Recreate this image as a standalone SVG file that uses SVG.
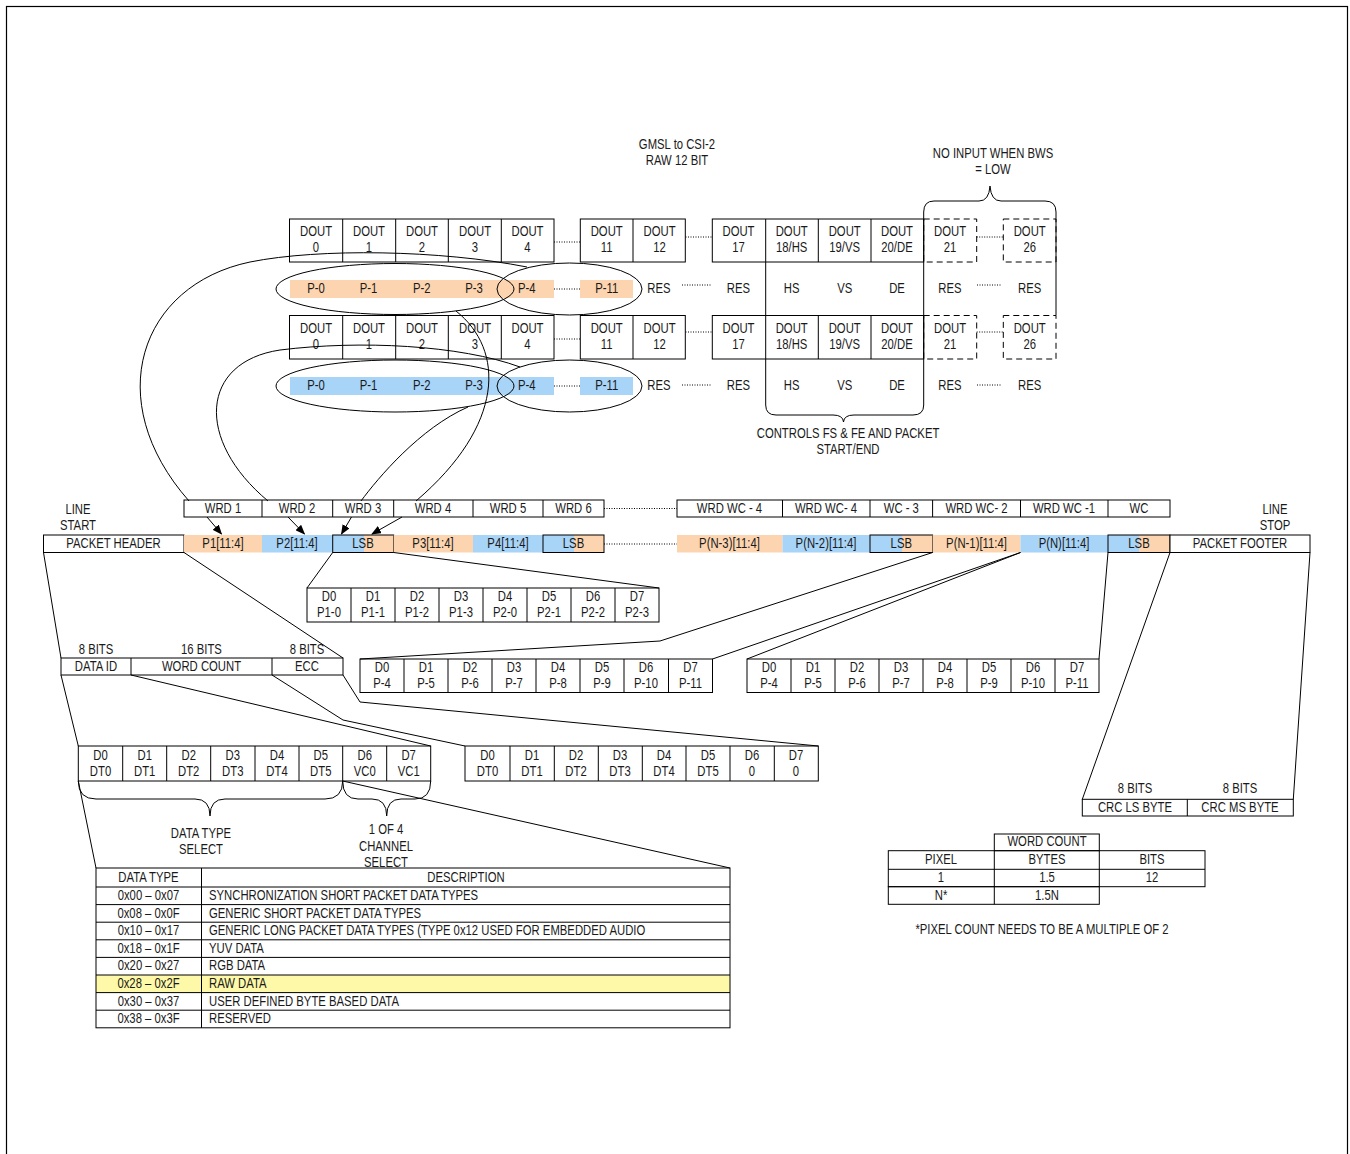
<svg xmlns="http://www.w3.org/2000/svg" width="1350" height="1154" viewBox="0 0 1350 1154">
<style>
text{font-family:"Liberation Sans",Arial,sans-serif;font-size:13.8px;fill:#1a1a1a;text-anchor:middle;transform-box:fill-box;transform-origin:center;transform:scaleX(.82)}
text.lt{text-anchor:start;transform-origin:left center}
.s{stroke:#000;stroke-width:1;fill:none}
.b{stroke:#000;stroke-width:1;fill:#fff}
.dot{stroke:#000;stroke-width:1;stroke-dasharray:1,1.5;fill:none}
.dash{stroke:#000;stroke-width:1;stroke-dasharray:6,4;fill:none}
.o{fill:#fcd5b0}
.bl{fill:#a8d4f8}
</style>
<defs>
<marker id="ah" markerWidth="10" markerHeight="8" refX="9" refY="4" orient="auto" markerUnits="userSpaceOnUse">
<path d="M0,0 L10,4 L0,8 z" fill="#000"/>
</marker>
</defs>
<rect x="6.5" y="6.5" width="1341" height="1170" fill="none" stroke="#000" stroke-width="1.2"/>

<g id="title">
<text x="677" y="149">GMSL to CSI-2</text>
<text x="677" y="165">RAW 12 BIT</text>
</g>
<g id="note-bws">
<text x="993" y="158">NO INPUT WHEN BWS</text>
<text x="993" y="174">= LOW</text>
</g>

<g id="dout-row1">
<rect class="s" x="289.5" y="219" width="264.5" height="43"/>
<path class="s" d="M342.7 219V262M395.7 219V262M448.3 219V262M501.3 219V262"/>
<rect class="s" x="580.3" y="219" width="105" height="43"/>
<path class="s" d="M633 219V262"/>
<rect class="s" x="712.3" y="219" width="211.4" height="43"/>
<path class="s" d="M765.7 219V262M818.3 219V262M871 219V262"/>
<rect class="dash" x="923.7" y="219" width="53" height="43"/>
<rect class="dash" x="1003.3" y="219" width="52.7" height="43"/>
<path class="dot" d="M554 242H580M685.5 237H712M976.7 237H1003"/>
<text x="316" y="236">DOUT</text><text x="316" y="252">0</text>
<text x="369" y="236">DOUT</text><text x="369" y="252">1</text>
<text x="422" y="236">DOUT</text><text x="422" y="252">2</text>
<text x="475" y="236">DOUT</text><text x="475" y="252">3</text>
<text x="527.5" y="236">DOUT</text><text x="527.5" y="252">4</text>
<text x="606.7" y="236">DOUT</text><text x="606.7" y="252">11</text>
<text x="659.5" y="236">DOUT</text><text x="659.5" y="252">12</text>
<text x="738.5" y="236">DOUT</text><text x="738.5" y="252">17</text>
<text x="791.7" y="236">DOUT</text><text x="791.7" y="252">18/HS</text>
<text x="844.7" y="236">DOUT</text><text x="844.7" y="252">19/VS</text>
<text x="897" y="236">DOUT</text><text x="897" y="252">20/DE</text>
<text x="950" y="236">DOUT</text><text x="950" y="252">21</text>
<text x="1029.7" y="236">DOUT</text><text x="1029.7" y="252">26</text>
</g>

<g id="p-row1">
<rect class="o" x="290" y="280" width="264" height="18"/>
<rect class="o" x="580" y="280" width="53" height="18"/>
<path class="dot" d="M554 289H580M682 285H712M977 285H1002"/>
<text x="316" y="293">P-0</text>
<text x="368.5" y="293">P-1</text>
<text x="421.7" y="293">P-2</text>
<text x="474" y="293">P-3</text>
<text x="526.7" y="293">P-4</text>
<text x="606.7" y="293">P-11</text>
<text x="659" y="293">RES</text>
<text x="738.5" y="293">RES</text>
<text x="791.7" y="293">HS</text>
<text x="844.7" y="293">VS</text>
<text x="897" y="293">DE</text>
<text x="950" y="293">RES</text>
<text x="1029.7" y="293">RES</text>
<ellipse class="s" cx="395" cy="289" rx="119" ry="25.5"/>
<ellipse class="s" cx="569.5" cy="289" rx="72.5" ry="26"/>
</g>

<g id="dout-row2">
<rect class="s" x="289.5" y="315.5" width="264.5" height="43.5"/>
<path class="s" d="M342.7 315.5V359M395.7 315.5V359M448.3 315.5V359M501.3 315.5V359"/>
<rect class="s" x="580.3" y="315.5" width="105" height="43.5"/>
<path class="s" d="M633 315.5V359"/>
<rect class="s" x="712.3" y="315.5" width="211.4" height="43.5"/>
<path class="s" d="M765.7 315.5V359M818.3 315.5V359M871 315.5V359"/>
<rect class="dash" x="923.7" y="315.5" width="53" height="43.5"/>
<rect class="dash" x="1003.3" y="315.5" width="52.7" height="43.5"/>
<path class="dot" d="M554 339H580M685.5 332H712M976.7 332H1003"/>
<text x="316" y="333">DOUT</text><text x="316" y="349">0</text>
<text x="369" y="333">DOUT</text><text x="369" y="349">1</text>
<text x="422" y="333">DOUT</text><text x="422" y="349">2</text>
<text x="475" y="333">DOUT</text><text x="475" y="349">3</text>
<text x="527.5" y="333">DOUT</text><text x="527.5" y="349">4</text>
<text x="606.7" y="333">DOUT</text><text x="606.7" y="349">11</text>
<text x="659.5" y="333">DOUT</text><text x="659.5" y="349">12</text>
<text x="738.5" y="333">DOUT</text><text x="738.5" y="349">17</text>
<text x="791.7" y="333">DOUT</text><text x="791.7" y="349">18/HS</text>
<text x="844.7" y="333">DOUT</text><text x="844.7" y="349">19/VS</text>
<text x="897" y="333">DOUT</text><text x="897" y="349">20/DE</text>
<text x="950" y="333">DOUT</text><text x="950" y="349">21</text>
<text x="1029.7" y="333">DOUT</text><text x="1029.7" y="349">26</text>
</g>

<g id="p-row2">
<rect class="bl" x="290" y="377" width="264" height="18"/>
<rect class="bl" x="580" y="377" width="53" height="18"/>
<path class="dot" d="M554 386H580M682 385H712M977 385H1002"/>
<text x="316" y="390">P-0</text>
<text x="368.5" y="390">P-1</text>
<text x="421.7" y="390">P-2</text>
<text x="474" y="390">P-3</text>
<text x="526.7" y="390">P-4</text>
<text x="606.7" y="390">P-11</text>
<text x="659" y="390">RES</text>
<text x="738.5" y="390">RES</text>
<text x="791.7" y="390">HS</text>
<text x="844.7" y="390">VS</text>
<text x="897" y="390">DE</text>
<text x="950" y="390">RES</text>
<text x="1029.7" y="390">RES</text>
<ellipse class="s" cx="395" cy="386" rx="119" ry="26"/>
<ellipse class="s" cx="569.5" cy="386" rx="72.5" ry="26"/>
</g>

<g id="braces-top">
<path class="s" d="M923.7 405V212Q923.7 201 934 201H979Q989 201 990 186Q991 201 1001 201H1045Q1056 201 1056 212V315.5"/>
<path class="s" d="M765.7 262V315.5M765.7 359V405Q765.7 415 776 415H833Q843 415 843.5 422Q844 415 854 415H913Q923.7 415 923.7 405"/>
<text x="848" y="438.5">CONTROLS FS &amp; FE AND PACKET</text>
<text x="848" y="454.5">START/END</text>
</g>

<g id="wrd-row">
<rect class="s" x="184" y="500" width="420" height="17"/>
<path class="s" d="M262 500V517M332.7 500V517M393.7 500V517M473 500V517M543 500V517"/>
<path class="dot" d="M604 508.5H677"/>
<rect class="s" x="677" y="500" width="493" height="17"/>
<path class="s" d="M782.5 500V517M870 500V517M932.6 500V517M1020.5 500V517M1108 500V517"/>
<text x="223" y="513">WRD 1</text>
<text x="297" y="513">WRD 2</text>
<text x="363" y="513">WRD 3</text>
<text x="433" y="513">WRD 4</text>
<text x="508" y="513">WRD 5</text>
<text x="573.5" y="513">WRD 6</text>
<text x="729.5" y="513">WRD WC - 4</text>
<text x="826" y="513">WRD WC- 4</text>
<text x="901.3" y="513">WC - 3</text>
<text x="976.5" y="513">WRD WC- 2</text>
<text x="1064" y="513">WRD WC -1</text>
<text x="1139" y="513">WC</text>
</g>

<g id="line-start"><text x="78" y="514.5">LINE</text><text x="78" y="530.5">START</text></g>
<g id="line-stop"><text x="1275" y="514.5">LINE</text><text x="1275" y="530.5">STOP</text></g>

<g id="p-row">
<rect class="b" x="43.5" y="535" width="140.5" height="17.5"/>
<rect class="o" x="184" y="535" width="78" height="17.5"/>
<rect class="bl" x="262" y="535" width="70.7" height="17.5"/>
<rect class="bl" x="332.7" y="535" width="31.3" height="17.5"/>
<rect class="o" x="364" y="535" width="29.7" height="17.5"/>
<rect class="s" x="332.7" y="535" width="61" height="17.5"/>
<rect class="o" x="393.7" y="535" width="79.3" height="17.5"/>
<rect class="bl" x="473" y="535" width="70" height="17.5"/>
<rect class="bl" x="543" y="535" width="31" height="17.5"/>
<rect class="o" x="574" y="535" width="30" height="17.5"/>
<rect class="s" x="543" y="535" width="61" height="17.5"/>
<path class="dot" d="M604 544H677"/>
<rect class="o" x="677" y="535" width="105.5" height="17.5"/>
<rect class="bl" x="782.5" y="535" width="87.5" height="17.5"/>
<rect class="bl" x="870" y="535" width="32" height="17.5"/>
<rect class="o" x="902" y="535" width="30.6" height="17.5"/>
<rect class="s" x="870" y="535" width="62.6" height="17.5"/>
<rect class="o" x="932.6" y="535" width="87.9" height="17.5"/>
<rect class="bl" x="1020.5" y="535" width="87.5" height="17.5"/>
<rect class="bl" x="1108" y="535" width="31" height="17.5"/>
<rect class="o" x="1139" y="535" width="31" height="17.5"/>
<rect class="s" x="1108" y="535" width="62" height="17.5"/>
<rect class="b" x="1170" y="535" width="140" height="17.5"/>
<text x="113.5" y="548">PACKET HEADER</text>
<text x="223" y="548">P1[11:4]</text>
<text x="297" y="548">P2[11:4]</text>
<text x="363" y="548">LSB</text>
<text x="433" y="548">P3[11:4]</text>
<text x="508" y="548">P4[11:4]</text>
<text x="573.5" y="548">LSB</text>
<text x="729.5" y="548">P(N-3)[11:4]</text>
<text x="826" y="548">P(N-2)[11:4]</text>
<text x="901.3" y="548">LSB</text>
<text x="976.5" y="548">P(N-1)[11:4]</text>
<text x="1064" y="548">P(N)[11:4]</text>
<text x="1139" y="548">LSB</text>
<text x="1240" y="548">PACKET FOOTER</text>
</g>

<g id="lsb-box1">
<rect class="s" x="307" y="588" width="352" height="34"/>
<path class="s" d="M351 588V622M395 588V622M439 588V622M483 588V622M527 588V622M571 588V622M615 588V622"/>
<text x="329" y="601.5">D0</text><text x="329" y="617.5">P1-0</text>
<text x="373" y="601.5">D1</text><text x="373" y="617.5">P1-1</text>
<text x="417" y="601.5">D2</text><text x="417" y="617.5">P1-2</text>
<text x="461" y="601.5">D3</text><text x="461" y="617.5">P1-3</text>
<text x="505" y="601.5">D4</text><text x="505" y="617.5">P2-0</text>
<text x="549" y="601.5">D5</text><text x="549" y="617.5">P2-1</text>
<text x="593" y="601.5">D6</text><text x="593" y="617.5">P2-2</text>
<text x="637" y="601.5">D7</text><text x="637" y="617.5">P2-3</text>
</g>

<g id="header-fields">
<rect class="s" x="61" y="658" width="282" height="17"/>
<path class="s" d="M131 658V675M272 658V675"/>
<text x="96" y="654">8 BITS</text>
<text x="201.5" y="654">16 BITS</text>
<text x="307" y="654">8 BITS</text>
<text x="96" y="671">DATA ID</text>
<text x="201.5" y="671">WORD COUNT</text>
<text x="307" y="671">ECC</text>
</g>

<g id="lsb-box2">
<rect class="s" x="360" y="659" width="352.5" height="33.5"/>
<path class="s" d="M404 659V692.5M448 659V692.5M492 659V692.5M536 659V692.5M580 659V692.5M624 659V692.5M668.5 659V692.5"/>
<text x="382" y="672">D0</text><text x="382" y="688.5">P-4</text>
<text x="426" y="672">D1</text><text x="426" y="688.5">P-5</text>
<text x="470" y="672">D2</text><text x="470" y="688.5">P-6</text>
<text x="514" y="672">D3</text><text x="514" y="688.5">P-7</text>
<text x="558" y="672">D4</text><text x="558" y="688.5">P-8</text>
<text x="602" y="672">D5</text><text x="602" y="688.5">P-9</text>
<text x="646" y="672">D6</text><text x="646" y="688.5">P-10</text>
<text x="690.5" y="672">D7</text><text x="690.5" y="688.5">P-11</text>
</g>

<g id="lsb-box3">
<rect class="s" x="747" y="659" width="352" height="33.5"/>
<path class="s" d="M791 659V692.5M835 659V692.5M879 659V692.5M923 659V692.5M967 659V692.5M1011 659V692.5M1055 659V692.5"/>
<text x="769" y="672">D0</text><text x="769" y="688.5">P-4</text>
<text x="813" y="672">D1</text><text x="813" y="688.5">P-5</text>
<text x="857" y="672">D2</text><text x="857" y="688.5">P-6</text>
<text x="901" y="672">D3</text><text x="901" y="688.5">P-7</text>
<text x="945" y="672">D4</text><text x="945" y="688.5">P-8</text>
<text x="989" y="672">D5</text><text x="989" y="688.5">P-9</text>
<text x="1033" y="672">D6</text><text x="1033" y="688.5">P-10</text>
<text x="1077" y="672">D7</text><text x="1077" y="688.5">P-11</text>
</g>

<g id="data-id-bits">
<rect class="s" x="78.3" y="746" width="352.4" height="35"/>
<path class="s" d="M122.7 746V781M166.7 746V781M210.7 746V781M255 746V781M299 746V781M342.7 746V781M386.7 746V781"/>
<text x="100.5" y="760.5">D0</text><text x="100.5" y="776.5">DT0</text>
<text x="144.7" y="760.5">D1</text><text x="144.7" y="776.5">DT1</text>
<text x="188.7" y="760.5">D2</text><text x="188.7" y="776.5">DT2</text>
<text x="232.8" y="760.5">D3</text><text x="232.8" y="776.5">DT3</text>
<text x="277" y="760.5">D4</text><text x="277" y="776.5">DT4</text>
<text x="320.8" y="760.5">D5</text><text x="320.8" y="776.5">DT5</text>
<text x="364.7" y="760.5">D6</text><text x="364.7" y="776.5">VC0</text>
<text x="408.7" y="760.5">D7</text><text x="408.7" y="776.5">VC1</text>
</g>

<g id="ecc-bits">
<rect class="s" x="465" y="746" width="353.3" height="35"/>
<path class="s" d="M510 746V781M554.3 746V781M598.3 746V781M642.3 746V781M686 746V781M730 746V781M774.3 746V781"/>
<text x="487.5" y="760.5">D0</text><text x="487.5" y="776.5">DT0</text>
<text x="532" y="760.5">D1</text><text x="532" y="776.5">DT1</text>
<text x="576" y="760.5">D2</text><text x="576" y="776.5">DT2</text>
<text x="620" y="760.5">D3</text><text x="620" y="776.5">DT3</text>
<text x="664" y="760.5">D4</text><text x="664" y="776.5">DT4</text>
<text x="708" y="760.5">D5</text><text x="708" y="776.5">DT5</text>
<text x="752" y="760.5">D6</text><text x="752" y="776.5">0</text>
<text x="796" y="760.5">D7</text><text x="796" y="776.5">0</text>
</g>

<g id="braces-bottom">
<path class="s" d="M78.3 781Q78.3 799 96 799H195Q210 799 210 816Q210 799 225 799H325Q342.7 799 342.7 781"/>
<path class="s" d="M342.7 781Q342.7 799 358 799H372Q386.7 799 386.7 816Q386.7 799 401 799H415Q430.7 799 430.7 781"/>
<text x="201" y="838.5">DATA TYPE</text>
<text x="201" y="854.5">SELECT</text>
<text x="386" y="834.5">1 OF 4</text>
<text x="386" y="851.5">CHANNEL</text>
<text x="386" y="867.5">SELECT</text>
</g>

<g id="data-type-table">
<rect x="96" y="975" width="634" height="17.6" fill="#fef9a8"/>
<rect class="s" x="96" y="868" width="634" height="159.8"/>
<path class="s" d="M201.5 868V1027.8M96 887H730M96 904.6H730M96 922.2H730M96 939.8H730M96 957.4H730M96 975H730M96 992.6H730M96 1010.2H730"/>
<text x="148.5" y="882">DATA TYPE</text><text x="466" y="882">DESCRIPTION</text>
<text x="148.5" y="900">0x00 – 0x07</text><text class="lt" x="209" y="900">SYNCHRONIZATION SHORT PACKET DATA TYPES</text>
<text x="148.5" y="917.6">0x08 – 0x0F</text><text class="lt" x="209" y="917.6">GENERIC SHORT PACKET DATA TYPES</text>
<text x="148.5" y="935.2">0x10 – 0x17</text><text class="lt" x="209" y="935.2">GENERIC LONG PACKET DATA TYPES (TYPE 0x12 USED FOR EMBEDDED AUDIO</text>
<text x="148.5" y="952.8">0x18 – 0x1F</text><text class="lt" x="209" y="952.8">YUV DATA</text>
<text x="148.5" y="970.4">0x20 – 0x27</text><text class="lt" x="209" y="970.4">RGB DATA</text>
<text x="148.5" y="988">0x28 – 0x2F</text><text class="lt" x="209" y="988">RAW DATA</text>
<text x="148.5" y="1005.6">0x30 – 0x37</text><text class="lt" x="209" y="1005.6">USER DEFINED BYTE BASED DATA</text>
<text x="148.5" y="1023.2">0x38 – 0x3F</text><text class="lt" x="209" y="1023.2">RESERVED</text>
</g>

<g id="crc">
<rect class="s" x="1082.3" y="799.3" width="211" height="16.7"/>
<path class="s" d="M1187.3 799.3V816"/>
<text x="1135" y="793">8 BITS</text>
<text x="1240" y="793">8 BITS</text>
<text x="1135" y="812">CRC LS BYTE</text>
<text x="1240" y="812">CRC MS BYTE</text>
</g>

<g id="word-count-table">
<rect class="s" x="994.3" y="834" width="105" height="16.7"/>
<rect class="s" x="888.3" y="850.7" width="316.7" height="36"/>
<path class="s" d="M888.3 869.3H1205M994.3 850.7V904.3M1099.3 850.7V886.7"/>
<rect class="s" x="888.3" y="886.7" width="211" height="17.6"/>
<text x="1047" y="846.5">WORD COUNT</text>
<text x="941" y="864.5">PIXEL</text><text x="1047" y="864.5">BYTES</text><text x="1152" y="864.5">BITS</text>
<text x="941" y="882.5">1</text><text x="1047" y="882.5">1.5</text><text x="1152" y="882.5">12</text>
<text x="941" y="900">N*</text><text x="1047" y="900">1.5N</text>
<text x="1042" y="934.5">*PIXEL COUNT NEEDS TO BE A MULTIPLE OF 2</text>
</g>

<g id="connectors">
<path class="s" d="M527 267C440 250 320 248 250 262C140 285 100 400 189 501"/>
<path class="s" d="M520 367C460 345 360 340 280 350C200 362 195 440 268 501"/>
<path class="s" d="M361 501C378 478 420 428 468 407"/>
<path class="s" d="M456 311C505 350 505 425 416 501"/>
<path class="s" marker-end="url(#ah)" d="M207 517L221.5 534"/>
<path class="s" marker-end="url(#ah)" d="M288 517L304.5 534"/>
<path class="s" marker-end="url(#ah)" d="M351.5 517L341.5 534"/>
<path class="s" marker-end="url(#ah)" d="M402 517L372 534"/>
<path class="s" d="M43.5 552.5L61 658M61 675L78.3 746M78.3 781L96 868"/>
<path class="s" d="M184 552.5L343 658"/>
<path class="s" d="M131 675L430.7 746"/>
<path class="s" d="M272 675L343 720L465 746"/>
<path class="s" d="M343 675L360 702L818.3 746"/>
<path class="s" d="M342.7 781L730 868"/>
<path class="s" d="M332.7 552.5L307 588M393.7 552.5L659 588"/>
<path class="s" d="M932.6 552.5L660 641L360 659"/>
<path class="s" d="M1020.5 552.5L712.5 659M1020.5 552.5L747 659"/>
<path class="s" d="M1108 552.5L1099 659"/>
<path class="s" d="M1170 552.5L1082.3 799.3M1310 552.5L1293.3 799.3"/>
</g>
</svg>
